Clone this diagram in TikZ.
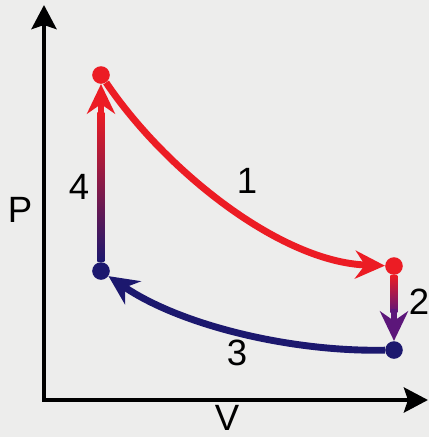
\documentclass[tikz,border=0pt]{standalone}
\usepackage{fontspec}
\setmainfont{Liberation Sans}
\usepackage{tikz}
\usetikzlibrary{arrows.meta,calc}
\definecolor{hot}{RGB}{236,28,36}
\definecolor{cold}{RGB}{28,24,110}
\definecolor{mixed}{RGB}{92,22,122}
\definecolor{bg}{RGB}{237,237,236}

\begin{document}
\begin{tikzpicture}[x=0.025cm,y=-0.025cm,
    axis/.style={line width=3.3pt,line join=miter},
    dot/.style={circle,inner sep=0pt,minimum size=0.44cm},
    leg/.style={line width=4.9pt,-{Stealth[length=0.74cm,width=0.7cm,inset=0.24cm]}},
    lbl/.style={font=\fontsize{26}{30}\selectfont}]
  \fill[bg](0,0) rectangle (429,437);
  \useasboundingbox (0,0) rectangle (429,437);
  % axes
  \coordinate (o) at (44,400);
  \coordinate (ptop) at (44,5);
  \coordinate (vend) at (428,400);
  \draw[axis,{Stealth[length=0.6cm,width=0.62cm,inset=0.1cm]}-{Stealth[length=0.6cm,width=0.62cm,inset=0.1cm]}]
    (ptop) -- (o) -- (vend);
  \node[lbl] (p) at (20,210) {P};
  \node[lbl] (v) at (227,418) {V};
  % states
  \node[dot,fill=hot] (a) at (101,75) {};
  \node[dot,fill=hot] (b) at (394,266) {};
  \node[dot,fill=cold] (c) at (394,350) {};
  \node[dot,fill=cold] (d) at (101,271) {};
  % 1
  \draw[leg,hot] (a) .. controls (165,170) and (280,262) .. (b);
  \node[lbl] (n1) at (247,181) {1};
  % 2
  \shade[top color=hot,bottom color=mixed] ($(b.south)+(-3.5,0)$) rectangle ($(c.north)+(3.5,-28)$);
  \draw[leg,mixed] ($(c.north)+(0,-32)$) -- (c);
  \node[lbl] (n2) at (419,302) {2};
  % 3
  \draw[leg,cold] (c) .. controls (290,352) and (180,325) .. (d);
  \node[lbl] (n3) at (237,353) {3};
  % 4
  \shade[top color=hot,middle color=mixed,bottom color=cold] ($(d.north)+(-3.5,0)$) rectangle ($(a.south)+(3.5,28)$);
  \draw[leg,hot] ($(a.south)+(0,32)$) -- (a);
  \node[lbl] (n4) at (79,187) {4};
\end{tikzpicture}
\end{document}
